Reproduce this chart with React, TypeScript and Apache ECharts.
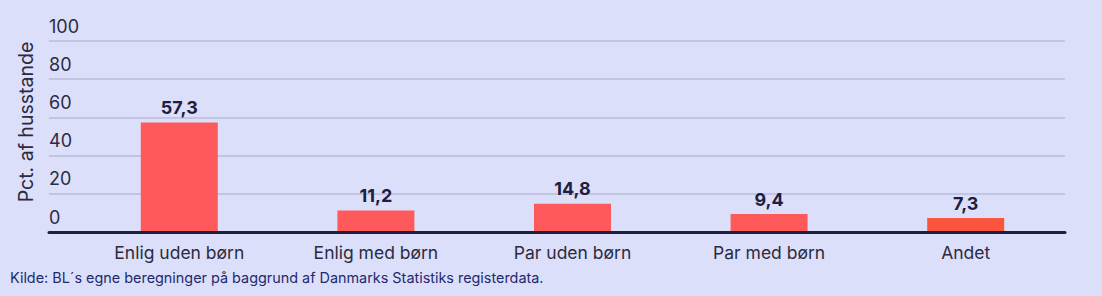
import React, { useEffect, useRef } from "react";
import * as echarts from "echarts";

const categories = ["Enlig uden børn", "Enlig med børn", "Par uden børn", "Par med børn", "Andet"];
const values = [57.3, 11.2, 14.8, 9.4, 7.3];
const barColors = ["#FF5A5B", "#FF5A5B", "#FF5A5B", "#FF5A5A", "#F9563D"];
const yTicks = [0, 20, 40, 60, 80, 100];
const yAxisTitle = "Pct. af husstande";
const sourceText = "Kilde: BL´s egne beregninger på baggrund af Danmarks Statistiks registerdata.";

const FONT = "Inter, 'Noto Sans', sans-serif";

export default function App() {
  const ref = useRef<HTMLDivElement>(null);
  useEffect(() => {
    document.body.style.margin = "0";
    const chart = echarts.init(ref.current!, null, { renderer: "svg" });
    const yMax = yTicks[yTicks.length - 1];
    const yInterval = yTicks[1] - yTicks[0];
    chart.setOption({
      animation: false,
      backgroundColor: "#DCDFFA",
      textStyle: { fontFamily: FONT },
      grid: [
        { left: 49, right: 37, top: 41, bottom: 64, containLabel: false },
        { left: 81, right: 38, top: 41, bottom: 64, containLabel: false },
      ],
      xAxis: [
        {
          type: "category",
          gridIndex: 0,
          data: categories,
          axisLine: { show: true, lineStyle: { color: "#1F1D40", width: 3 } },
          axisTick: { show: false },
          axisLabel: { show: false },
          z: 10,
        },
        {
          type: "category",
          gridIndex: 1,
          data: categories,
          axisLine: { show: false },
          axisTick: { show: false },
          axisLabel: {
            show: true,
            color: "#2B2B40",
            fontSize: 17.5,
            fontFamily: FONT,
            margin: 11,
          },
        },
      ],
      yAxis: [
        {
          type: "value",
          gridIndex: 0,
          min: 0,
          max: yMax,
          interval: yInterval,
          axisLine: { show: false },
          axisTick: { show: false },
          splitLine: { show: true, lineStyle: { color: "#B9BDD8", width: 1.6 } },
          axisLabel: {
            show: true,
            inside: true,
            margin: 0,
            align: "left",
            verticalAlign: "bottom",
            padding: [0, 0, 6, 0],
            color: "#2B2B40",
            fontSize: 18,
            fontFamily: FONT,
          },
        },
        {
          type: "value",
          gridIndex: 1,
          min: 0,
          max: yMax,
          interval: yInterval,
          axisLine: { show: false },
          axisTick: { show: false },
          splitLine: { show: false },
          axisLabel: { show: false },
        },
      ],
      graphic: [
        {
          type: "text",
          x: 26,
          y: 122,
          rotation: Math.PI / 2,
          style: {
            text: yAxisTitle,
            fill: "#2B2B40",
            fontSize: 19.5,
            fontFamily: FONT,
            textAlign: "center",
            textVerticalAlign: "middle",
          },
        },
        {
          type: "text",
          x: 10,
          y: 277,
          style: {
            text: sourceText,
            fill: "#1E2A6E",
            fontSize: 14.4,
            fontFamily: FONT,
            textAlign: "left",
            textVerticalAlign: "middle",
          },
        },
      ],
      series: [
        {
          type: "bar",
          xAxisIndex: 1,
          yAxisIndex: 1,
          barWidth: 77,
          data: values.map((v, i) => ({ value: v, itemStyle: { color: barColors[i] } })),
          label: {
            show: true,
            position: "top",
            distance: 6,
            color: "#1F1D40",
            fontSize: 18,
            fontWeight: "bold",
            fontFamily: FONT,
            formatter: (p: any) => String(p.value).replace(".", ","),
          },
        },
      ],
    });
    return () => chart.dispose();
  }, []);
  return <div ref={ref} style={{ width: 1102, height: 296 }} />;
}
